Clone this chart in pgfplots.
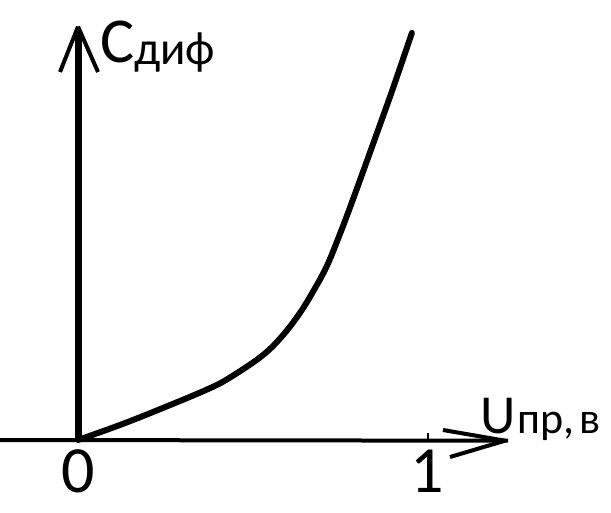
\documentclass[border=0pt]{standalone}
\usepackage{pgfplots}
\pgfplotsset{compat=1.18}
\usepackage{fontspec}
\setmainfont{Carlito}
\begin{document}
\begin{tikzpicture}
\begin{axis}[
  scale only axis, width=611pt, height=512pt,
  xmin=-0.2229, xmax=1.5229, ymin=-0.2057, ymax=1.2571,
  hide axis, clip=false,
]
% axes
\addplot[black, line width=7pt, line cap=butt] coordinates {(0,0) (0,1.17)};
\addplot[black, line width=4pt] coordinates {(0,1.181) (-0.0514,1.0514)};
\addplot[black, line width=4pt] coordinates {(0,1.181) (0.0571,1.0514)};
\addplot[black, line width=4pt] coordinates {(-0.2229,0) (1.2286,-0.002)};
\addplot[black, line width=4pt] coordinates {(1.0429,0.0286) (1.22,-0.002)};
\addplot[black, line width=4pt] coordinates {(1.0629,-0.0486) (1.22,-0.002)};
\addplot[black, line width=2pt] coordinates {(1,0) (1,0.02)};
% curve
\addplot[black, line width=6pt, smooth, tension=0.6, line cap=round] coordinates {
(0,0) (0.12,0.043) (0.234,0.088) (0.377,0.148) (0.443,0.184) (0.529,0.243)
(0.586,0.3) (0.634,0.363) (0.671,0.423) (0.711,0.497) (0.749,0.590)
(0.78,0.672) (0.82,0.782) (0.86,0.893) (0.9,1.005) (0.954,1.163)};
% labels
\node[anchor=center, inner sep=0pt, font=\fontsize{66}{66}\selectfont] at (axis cs:0,-0.0886) {0};
\node[anchor=center, inner sep=0pt, font=\fontsize{66}{66}\selectfont] at (axis cs:0.997,-0.0886) {1};
\node[anchor=base west, inner sep=0pt, font=\fontsize{64}{64}\selectfont] at (axis cs:0.0629,1.0771) {C};
\node[anchor=base west, inner sep=0pt, font=\fontsize{47}{47}\selectfont] at (axis cs:0.16,1.0714) {диф};
\node[anchor=base west, inner sep=0pt, font=\fontsize{55}{55}\selectfont] at (axis cs:1.1486,0.02) {U};
\node[anchor=base west, inner sep=0pt, font=\fontsize{44}{44}\selectfont] at (axis cs:1.2543,0.02) {пр,\hspace{0.12em}в};
\end{axis}
\pgfresetboundingbox
\path[use as bounding box] (0,0) rectangle (611pt,512pt);
\end{tikzpicture}
\end{document}
